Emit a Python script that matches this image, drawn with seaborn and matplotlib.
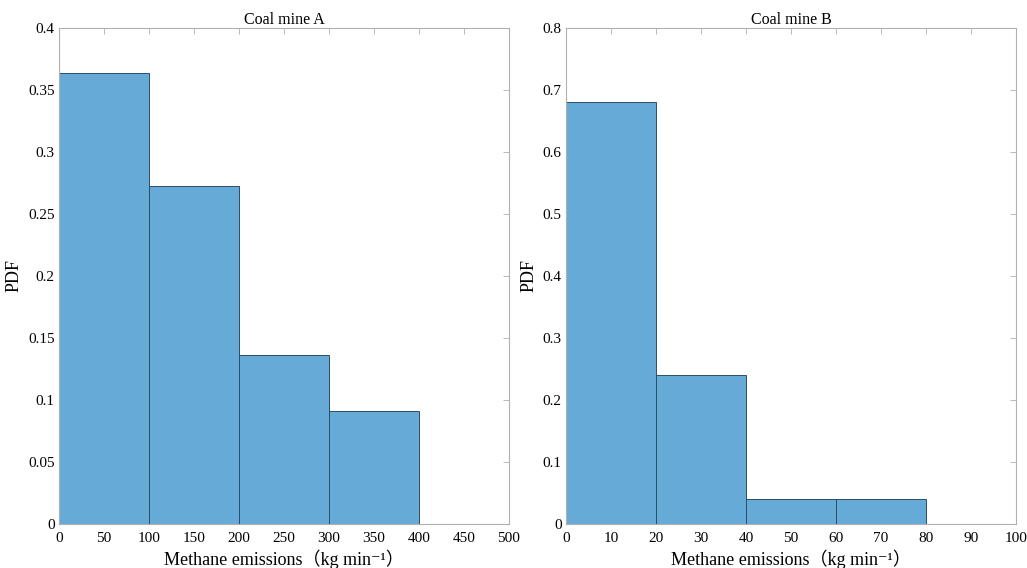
# plot.py
# Methane emission histograms for two coal mines (MATLAB-style look)

import numpy as np
import matplotlib
matplotlib.use('Agg')
import matplotlib.pyplot as plt
import seaborn as sns

# ── Data ──────────────────────────────────────────────
edges_a   = [0, 100, 200, 300, 400]
pdf_a     = [0.3636, 0.2727, 0.1364, 0.0909]
edges_b   = [0, 20, 40, 60, 80]
pdf_b     = [0.68, 0.24, 0.04, 0.04]
titles    = ['Coal mine A', 'Coal mine B']
xlims     = [(0, 500), (0, 100)]
xticks    = [np.arange(0, 501, 50), np.arange(0, 101, 10)]
ylims     = [(0, 0.4), (0, 0.8)]
yticks    = [np.arange(0, 0.401, 0.05), np.arange(0, 0.801, 0.1)]

# ── Style ─────────────────────────────────────────────
sns.set_style('white')
plt.rcParams['font.family'] = ['Liberation Serif', 'Noto Sans CJK SC', 'DejaVu Serif']
plt.rcParams['text.color'] = 'black'
plt.rcParams['axes.labelcolor'] = 'black'
FACE  = '#66aad7'
EDGE  = '#2b4d6b'
SPINE = '#b0b0b0'

fig = plt.figure(figsize=(10.27, 5.68), dpi=100)
boxes = [[0.0574, 0.0775, 0.4382, 0.8732], [0.5511, 0.0775, 0.4382, 0.8732]]

for i, (edges, pdf) in enumerate([(edges_a, pdf_a), (edges_b, pdf_b)]):
    ax = fig.add_axes(boxes[i])
    centers = [(edges[k] + edges[k + 1]) / 2 for k in range(len(pdf))]
    sns.histplot(x=centers, weights=pdf, bins=edges, stat='count', ax=ax,
                 color=FACE, alpha=1.0, edgecolor=EDGE, linewidth=0.7)
    ax.set_xlim(*xlims[i])
    ax.set_ylim(*ylims[i])
    ax.set_xticks(xticks[i])
    ax.set_yticks(yticks[i])
    ax.set_xticklabels([f'{v:g}' for v in xticks[i]])
    ax.set_yticklabels([f'{round(v, 2):g}' for v in yticks[i]])
    ax.tick_params(direction='in', length=4, width=0.6, color=SPINE,
                   top=True, right=True, labelsize=11, labelcolor='black')
    ax.tick_params(axis='x', pad=6)
    ax.tick_params(axis='y', pad=3)
    for s in ax.spines.values():
        s.set_visible(True)
        s.set_color(SPINE)
        s.set_linewidth(0.8)
    ax.set_title(titles[i], fontsize=11.5, pad=3, color='black')
    ax.set_xlabel('Methane emissions（kg min⁻¹）', fontsize=13, labelpad=3)
    ax.set_ylabel('PDF', fontsize=13, labelpad=4)
    ax.grid(False)

fig.savefig('out.png', dpi=100)
